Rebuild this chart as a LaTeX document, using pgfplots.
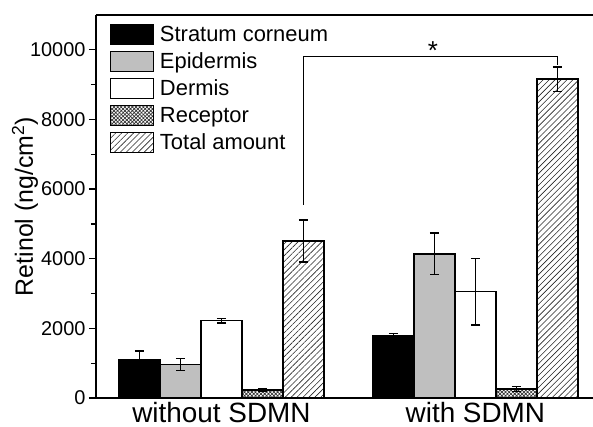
\documentclass[border=0pt]{standalone}
\usepackage{pgfplots}
\pgfplotsset{compat=1.18}
\usepackage{fontspec}
\setmainfont{Liberation Sans}
\usetikzlibrary{patterns,patterns.meta}

\pgfplotsset{
  lg/.style={legend image code/.code={\draw[##1, line width=1.3bp] (0bp,-10bp) rectangle (43bp,10bp);}},
}

\begin{document}
\begin{tikzpicture}
\begin{axis}[
  scale only axis, width=497bp, height=383bp,
  xmin=-0.494, xmax=1.463, ymin=0, ymax=11000,
  ybar=0pt, bar width=41bp,
  axis x line=box, axis y line=left,
  axis line style={-, line width=1.3bp},
  xtick={0,1}, xticklabels={without SDMN, with SDMN},
  xtick style={draw=none},
  xticklabel style={anchor=base, yshift=-17bp, font=\fontsize{28}{32}\selectfont},
  ytick={0,2000,...,10000}, minor ytick={1000,3000,...,9000},
  scaled y ticks=false,
  tick align=outside, major tick length=7bp, minor tick length=5bp,
  ytick style={line width=1.2bp, black},
  minor tick style={line width=1.2bp, black},
  yticklabel style={font=\fontsize{20}{24}\selectfont},
  /pgf/number format/1000 sep={},
  /pgf/number format/assume math mode=true,
  ylabel={Retinol (ng/cm\textsuperscript{2})},
  ylabel style={at={([xshift=-63bp]rel axis cs:0,0.5)}, anchor=base, font=\fontsize{25}{30}\selectfont},
  legend style={at={(rel axis cs:0,1)}, anchor=north west, xshift=14bp, yshift=-9bp,
    draw=none, fill=none, inner sep=0pt, row sep=5.6bp,
    font=\fontsize{22}{26}\selectfont, nodes={inner sep=1.5bp},
    /tikz/every odd column/.style={column sep=4bp}},
  legend cell align=left,
  error bars/y dir=both, error bars/y explicit,
  error bars/error bar style={line width=1.3bp, black},
  error bars/error mark options={rotate=90, mark size=4.6bp, line width=1.3bp, black},
  clip=false,
]
\addplot[lg, fill=black, draw=black, line width=1.3bp]
  coordinates {(0,1100) +- (0,250) (1,1800) +- (0,50)};
\addplot[lg, fill=black!25, draw=black, line width=1.3bp]
  coordinates {(0,960) +- (0,170) (1,4140) +- (0,595)};
\addplot[lg, fill=white, draw=black, line width=1.3bp]
  coordinates {(0,2220) +- (0,70) (1,3050) +- (0,950)};
\addplot[lg, draw=black, line width=1.3bp, pattern={Hatch[angle=45, distance=2.6bp, line width=0.7bp]}, pattern color=black!80]
  coordinates {(0,230) +- (0,50) (1,260) +- (0,80)};
\addplot[lg, draw=black, line width=1.3bp, pattern={Lines[angle=45, distance=4.2bp, line width=0.6bp]}, pattern color=black!85]
  coordinates {(0,4510) +- (0,600) (1,9160) +- (0,350)};
\legend{Stratum corneum, Epidermis, Dermis, Receptor, Total amount}

% significance bracket
\draw[line width=1.2bp] (axis cs:0.3228,5544) |- (axis cs:1.3228,9800) -- (axis cs:1.3228,9563);
\node[anchor=base, font=\fontsize{26}{30}\selectfont] at (axis cs:0.833,9710) {*};
\end{axis}
\pgfresetboundingbox
\path (-96bp,-29bp) rectangle (497bp,398bp);
\end{tikzpicture}
\end{document}
